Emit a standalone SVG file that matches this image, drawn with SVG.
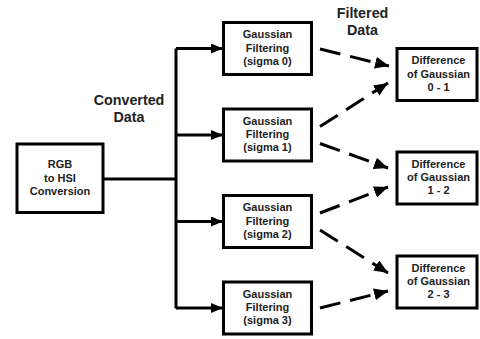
<svg xmlns="http://www.w3.org/2000/svg" width="480" height="339" viewBox="0 0 480 339">
<style>
.box{fill:#fff;stroke:#000;stroke-width:3}
.lbl{font-family:"Liberation Sans",Arial,sans-serif;font-weight:bold;font-size:11px;fill:#222;text-anchor:middle}
.big{font-family:"Liberation Sans",Arial,sans-serif;font-weight:bold;font-size:14.3px;fill:#222;text-anchor:middle}
.solid{fill:none;stroke:#000;stroke-width:3}
.dash{fill:none;stroke:#000;stroke-width:3;stroke-dasharray:21 10}
</style>
<defs>
<marker id="ah" markerUnits="userSpaceOnUse" markerWidth="12" markerHeight="10" refX="12" refY="5" orient="auto">
<path d="M0,0 L12,5 L0,10 z" fill="#000"/>
</marker>
<marker id="dh" markerUnits="userSpaceOnUse" markerWidth="14" markerHeight="12" refX="14" refY="6" orient="auto">
<path d="M0,0 L14,6 L0,12 z" fill="#000"/>
</marker>
</defs>
<rect width="480" height="339" fill="#fff"/>
<g id="connectors">
<path class="solid" d="M103,179 H176"/>
<path class="solid" d="M176,48.5 V308.5"/>
<path class="solid" d="M176,48.5 H223" marker-end="url(#ah)"/>
<path class="solid" d="M176,135 H223" marker-end="url(#ah)"/>
<path class="solid" d="M176,221.5 H223" marker-end="url(#ah)"/>
<path class="solid" d="M176,308 H223" marker-end="url(#ah)"/>
<path class="dash" d="M320,49 L389,66" marker-end="url(#dh)"/>
<path class="dash" d="M320,126.5 L388,83" marker-end="url(#dh)"/>
<path class="dash" d="M320,143.5 L388,168" marker-end="url(#dh)"/>
<path class="dash" d="M320,213 L388,187" marker-end="url(#dh)"/>
<path class="dash" d="M320,230 L388,273" marker-end="url(#dh)"/>
<path class="dash" d="M320,308 L388,291" marker-end="url(#dh)"/>
</g>
<text class="big" x="129" y="105.3">Converted</text>
<text class="big" x="129" y="121.7">Data</text>
<text class="big" x="362.5" y="18.3">Filtered</text>
<text class="big" x="362.5" y="35">Data</text>
<g id="rgb">
<rect class="box" x="17" y="144" width="86" height="68.5"/>
<text class="lbl" x="60" y="168.3">RGB</text>
<text class="lbl" x="60" y="181.6">to HSI</text>
<text class="lbl" x="60" y="194.9">Conversion</text>
</g>
<g id="g0">
<rect class="box" x="223.5" y="22.5" width="88" height="52"/>
<text class="lbl" x="267.5" y="38.3">Gaussian</text>
<text class="lbl" x="267.5" y="51.6">Filtering</text>
<text class="lbl" x="267.5" y="64.9">(sigma 0)</text>
</g>
<g id="g1">
<rect class="box" x="223.5" y="109" width="88" height="52"/>
<text class="lbl" x="267.5" y="124.8">Gaussian</text>
<text class="lbl" x="267.5" y="138.1">Filtering</text>
<text class="lbl" x="267.5" y="151.4">(sigma 1)</text>
</g>
<g id="g2">
<rect class="box" x="223.5" y="195.5" width="88" height="52"/>
<text class="lbl" x="267.5" y="211.3">Gaussian</text>
<text class="lbl" x="267.5" y="224.6">Filtering</text>
<text class="lbl" x="267.5" y="237.9">(sigma 2)</text>
</g>
<g id="g3">
<rect class="box" x="223.5" y="282" width="88" height="52"/>
<text class="lbl" x="267.5" y="297.8">Gaussian</text>
<text class="lbl" x="267.5" y="311.1">Filtering</text>
<text class="lbl" x="267.5" y="324.4">(sigma 3)</text>
</g>
<g id="d01">
<rect class="box" x="397" y="48.5" width="80" height="52"/>
<text class="lbl" x="438.5" y="64.3">Difference</text>
<text class="lbl" x="438.5" y="77.6">of Gaussian</text>
<text class="lbl" x="438.5" y="90.9">0 - 1</text>
</g>
<g id="d12">
<rect class="box" x="397" y="152" width="80" height="52"/>
<text class="lbl" x="438.5" y="167.8">Difference</text>
<text class="lbl" x="438.5" y="181.1">of Gaussian</text>
<text class="lbl" x="438.5" y="194.4">1 - 2</text>
</g>
<g id="d23">
<rect class="box" x="397" y="256" width="80" height="52"/>
<text class="lbl" x="438.5" y="271.8">Difference</text>
<text class="lbl" x="438.5" y="285.1">of Gaussian</text>
<text class="lbl" x="438.5" y="298.4">2 - 3</text>
</g>
</svg>
